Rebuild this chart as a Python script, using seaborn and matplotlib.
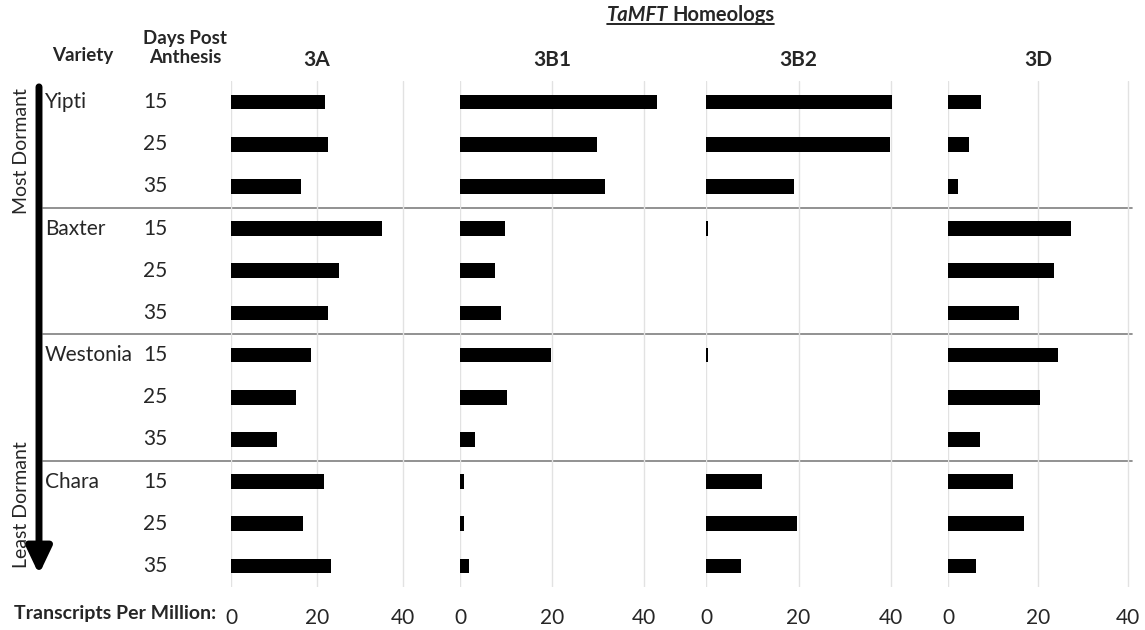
import matplotlib
matplotlib.use("Agg")
import matplotlib.pyplot as plt
import pandas as pd
import seaborn as sns
from matplotlib.lines import Line2D

# data (TPM)
varieties = ["Yipti", "Baxter", "Westonia", "Chara"]
days = ["15", "25", "35"]
homeologs = ["3A", "3B1", "3B2", "3D"]

tpm_3A = [21.8, 22.5, 16.3, 35.2, 25.2, 22.5, 18.7, 15.1, 10.8, 21.6, 16.7, 23.3]
tpm_3B1 = [42.8, 29.8, 31.4, 9.7, 7.6, 8.9, 19.7, 10.2, 3.2, 0.9, 0.9, 1.8]
tpm_3B2 = [40.2, 39.9, 19.0, 0.4, 0.0, 0.0, 0.3, 0.0, 0.0, 12.1, 19.6, 7.6]
tpm_3D = [7.2, 4.6, 2.2, 27.3, 23.5, 15.6, 24.4, 20.4, 7.0, 14.4, 16.9, 6.2]

rows = [f"{v} {d}" for v in varieties for d in days]
df = pd.DataFrame({
    "row": rows * 4,
    "homeolog": [h for h in homeologs for _ in rows],
    "tpm": tpm_3A + tpm_3B1 + tpm_3B2 + tpm_3D,
})

sns.set_theme(style="white")
plt.rcParams["font.family"] = ["Lato", "DejaVu Sans"]

W, H = 1145, 630
fig = plt.figure(figsize=(W / 100, H / 100), dpi=100)
top_px, bot_px = 81, 587


def px_rect(left, width):
    return [left / W, 1 - bot_px / H, width / W, (bot_px - top_px) / H]


# background axis for separators and row labels (x in pixels)
bg = fig.add_axes(px_rect(0, W))
bg.set_xlim(0, W)
bg.set_ylim(len(rows) - 0.5, -0.5)
bg.axis("off")
for sep in [2.5, 5.5, 8.5]:
    bg.axhline(sep, xmin=43 / W, xmax=1132 / W, color="#7f7f7f", lw=1.2)
for i, r in enumerate(rows):
    v, d = r.split()
    bg.text(143, i, d, fontsize=15, va="center", ha="left")
    if d == days[0]:
        bg.text(45, i, v, fontsize=15, va="center", ha="left")

# dormancy arrow
bg.annotate("", xy=(39, 11.2), xytext=(39, -0.36), annotation_clip=False,
            arrowprops=dict(arrowstyle="-|>,head_width=0.38,head_length=0.8",
                            lw=5, color="black", shrinkA=0, shrinkB=0,
                            mutation_scale=20))
fig.text(22 / W, 1 - 88 / H, "Most Dormant", rotation=90, fontsize=14,
         ha="center", va="top")
fig.text(22 / W, 1 - 568 / H, "Least Dormant", rotation=90, fontsize=14,
         ha="center", va="bottom")

# panels: left edge px, px per unit, x max
panels = {"3A": (231, 4.3, 40.4), "3B1": (460.3, 4.6, 43.5),
          "3B2": (706.3, 4.61, 40.5), "3D": (948.3, 4.5, 40.5)}

for h in homeologs:
    left, scale, xmax = panels[h]
    ax = fig.add_axes(px_rect(left, scale * xmax))
    ax.patch.set_alpha(0)
    sub = df[df["homeolog"] == h]
    sns.barplot(data=sub, x="tpm", y="row", color="black", width=0.345,
                saturation=1, edgecolor="none", ax=ax)
    ax.set_xlim(0, xmax)
    ax.set_ylim(len(rows) - 0.5, -0.5)
    ax.set_xticks([0, 20, 40])
    ax.grid(axis="x", color="#e2e2e2", lw=1)
    ax.set_axisbelow(True)
    ax.set_yticks([])
    ax.set_xlabel("")
    ax.set_ylabel("")
    ax.tick_params(axis="x", length=0, pad=15, labelsize=15)
    for s in ax.spines.values():
        s.set_visible(False)
    ax.text(20, -1.0, h, fontsize=15, fontweight="bold",
            ha="center", va="center", clip_on=False)

fig.text(83 / W, 1 - 55 / H, "Variety", fontsize=13.5, fontweight="bold",
         ha="center", va="center")
fig.text(185 / W, 1 - 48 / H, "Days Post\nAnthesis", fontsize=13.5,
         fontweight="bold", ha="center", va="center", linespacing=1.1)
fig.text(216 / W, 1 - 613 / H, "Transcripts Per Million:", fontsize=14,
         fontweight="bold", ha="right", va="center")

t1 = fig.text(668 / W, 1 - 15 / H, "TaMFT", fontsize=14.5, fontweight="bold",
              style="italic", ha="right", va="center")
t2 = fig.text(672 / W, 1 - 15 / H, "Homeologs", fontsize=14.5,
              fontweight="bold", ha="left", va="center")
fig.canvas.draw()
b1 = t1.get_window_extent()
b2 = t2.get_window_extent()
uy = (b1.y0 + 1) / H
fig.add_artist(Line2D([b1.x0 / W, b2.x1 / W], [uy, uy], color="black", lw=1.2))

fig.savefig("out.png", dpi=100)
